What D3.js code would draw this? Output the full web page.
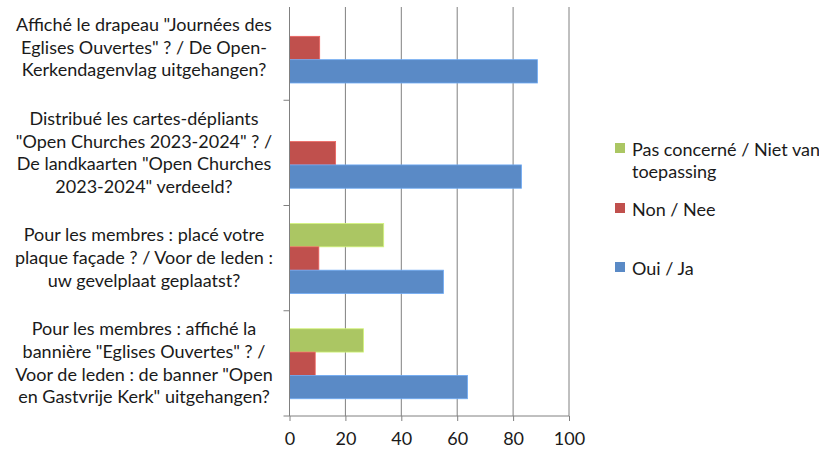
<!DOCTYPE html>
<html>
<head>
<meta charset="utf-8">
<script src="https://cdn.jsdelivr.net/npm/d3@7"></script>
<style>
  body { margin: 0; background: #fff; }
  svg { font-family: Lato, "Open Sans", sans-serif; }
</style>
</head>
<body>
<svg id="chart" width="819" height="452"></svg>
<script>
// categories, top to bottom
let categories = [
  ["Affiché le drapeau \"Journées des", "Eglises Ouvertes\" ? / De Open-", "Kerkendagenvlag uitgehangen?"],
  ["Distribué les cartes-dépliants", "\"Open Churches 2023-2024\" ? /", "De landkaarten \"Open Churches", "2023-2024\" verdeeld?"],
  ["Pour les membres : placé votre", "plaque façade ? / Voor de leden :", "uw gevelplaat geplaatst?"],
  ["Pour les membres : affiché la", "bannière \"Eglises Ouvertes\" ? /", "Voor de leden : de banner \"Open", "en Gastvrije Kerk\" uitgehangen?"]
];
let seriesNames = ["Pas concerné / Niet van toepassing", "Non / Nee", "Oui / Ja"];
let seriesColors = ["#abc663", "#c0504d", "#5a8ac6"];

let pasConcerne = [0, 0, 33.7, 26.5];
let non = [10.8, 16.5, 10.5, 9.2];
let oui = [88.7, 83.0, 55.1, 63.7];
let xTicks = [0, 20, 40, 60, 80, 100];

let values = [pasConcerne, non, oui];

let svg = d3.select("#chart");

let x = d3.scaleLinear().domain([0, 100]).range([289.5, 569]);
let y = d3.scaleBand().domain(d3.range(categories.length)).range([-5, 416]).padding(0);
let inner = d3.scaleBand().domain(d3.range(seriesNames.length))
  .range([18, 18 + 70]).padding(0);

let gridTop = 7, gridBottom = 416;
let fontSize = 18;

// vertical gridlines
svg.append("g").selectAll("line")
  .data(xTicks.slice(1))
  .join("line")
  .attr("x1", d => x(d)).attr("x2", d => x(d))
  .attr("y1", gridTop).attr("y2", gridBottom)
  .attr("stroke", "#808080").attr("stroke-width", 1);

// bars
let groups = svg.append("g").selectAll("g")
  .data(categories)
  .join("g")
  .attr("transform", (d, i) => `translate(0,${y(i)})`);

groups.each(function (cat, ci) {
  d3.select(this).selectAll("rect")
    .data(seriesNames.map((s, si) => ({ si, v: values[si][ci] })).filter(d => d.v > 0))
    .join("rect")
    .attr("x", x(0))
    .attr("y", d => inner(d.si))
    .attr("width", d => x(d.v) - x(0))
    .attr("height", inner.bandwidth())
    .attr("fill", d => seriesColors[d.si])
    .attr("stroke", d => d3.color(seriesColors[d.si]).brighter(0.6))
    .attr("stroke-width", 0.8);
});

// left axis line and category ticks
svg.append("line")
  .attr("x1", x(0)).attr("x2", x(0))
  .attr("y1", gridTop).attr("y2", gridBottom)
  .attr("stroke", "#808080");

let bounds = d3.range(1, categories.length + 1).map(i => y(i - 1) + y.step());
svg.append("g").selectAll("line")
  .data(bounds)
  .join("line")
  .attr("x1", x(0) - 6).attr("x2", x(0))
  .attr("y1", d => d).attr("y2", d => d)
  .attr("stroke", "#808080");

// bottom axis
let xAxis = d3.axisBottom(x).tickValues(xTicks).tickSize(5).tickPadding(11).tickFormat(d3.format("d"));
let axisG = svg.append("g")
  .attr("transform", `translate(0,${gridBottom})`)
  .call(xAxis);
axisG.select(".domain").attr("stroke", "#808080").attr("d", `M${x(0)},0H${x(100)}`);
axisG.selectAll(".tick line").attr("stroke", "#808080");
axisG.selectAll(".tick text")
  .attr("font-family", "Lato, sans-serif")
  .attr("font-size", fontSize)
  .attr("fill", "#1a1a1a");

// category labels
let lineH = 22.7;
svg.append("g").selectAll("text")
  .data(categories)
  .join("text")
  .attr("text-anchor", "middle")
  .attr("font-size", fontSize)
  .attr("fill", "#1a1a1a")
  .each(function (lines, i) {
    let cy = y(i) + y.step() / 2;
    let first = cy + 6 - (lines.length - 1) * lineH / 2;
    d3.select(this).selectAll("tspan")
      .data(lines)
      .join("tspan")
      .attr("x", 144)
      .attr("y", (d, j) => first + j * lineH)
      .text(d => d);
  });

// legend
let legendRows = [
  { si: 0, top: 143, lines: ["Pas concerné / Niet van", "toepassing"] },
  { si: 1, top: 203, lines: ["Non / Nee"] },
  { si: 2, top: 262, lines: ["Oui / Ja"] }
];
let legend = svg.append("g").selectAll("g")
  .data(legendRows)
  .join("g");
legend.append("rect")
  .attr("x", 615).attr("y", d => d.top)
  .attr("width", 10).attr("height", 10)
  .attr("fill", d => seriesColors[d.si]);
legend.append("text")
  .attr("font-size", fontSize)
  .attr("fill", "#1a1a1a")
  .selectAll("tspan")
  .data(d => d.lines.map((l, j) => ({ l, j, top: d.top })))
  .join("tspan")
  .attr("x", 632)
  .attr("y", d => d.top + 12.5 + d.j * 22)
  .text(d => d.l);
</script>
</body>
</html>
